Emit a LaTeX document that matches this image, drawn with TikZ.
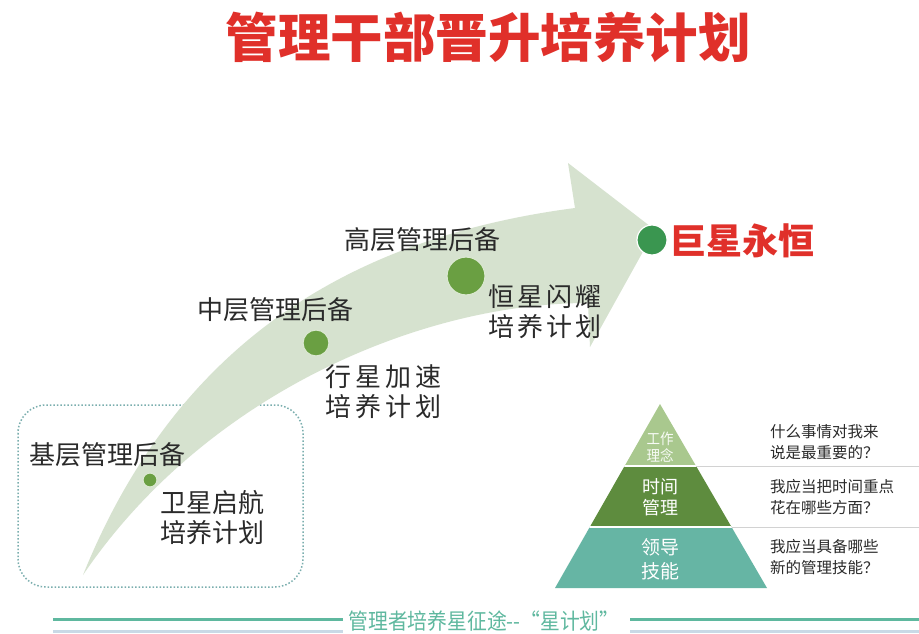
\documentclass[tikz,border=0pt]{standalone}
\usepackage{fontspec}
\usepackage{graphicx}
\newfontfamily\cjk{Noto Sans CJK SC}
\definecolor{band}{HTML}{D6E2CF}
\definecolor{dotg}{HTML}{6A9F42}
\definecolor{dotdark}{HTML}{3A9650}
\definecolor{titlered}{HTML}{E0302A}
\definecolor{pyrtop}{HTML}{A9C88E}
\definecolor{pyrmid}{HTML}{5E8C3E}
\definecolor{pyrbot}{HTML}{66B5A4}
\definecolor{boxline}{HTML}{7AAEAE}
\definecolor{foot}{HTML}{5FB89F}
\definecolor{footblue}{HTML}{C9D9E6}
\definecolor{txt}{HTML}{2A2A2A}
\tikzset{
  lbl/.style={inner sep=0pt, text=txt, font=\cjk\fontsize{26}{30}\selectfont},
  plan/.style={lbl, align=left, anchor=west},
  star/.style={circle, inner sep=0pt, fill=dotg, draw=dotg!25!white, line width=1.2pt},
  pyrlbl/.style={inner sep=0pt, text=white, align=center},
  qtxt/.style={inner sep=0pt, text=txt, align=left, anchor=west, font=\cjk\fontsize{15.5}{20.5}\selectfont},
}
\begin{document}
\begin{tikzpicture}[x=1pt,y=-1pt]
\useasboundingbox (0,0) rectangle (919,634);
\fill[white] (0,0) rectangle (919,634);
% title
\node[inner sep=0pt, text=titlered, font=\cjk\bfseries\fontsize{52.5}{52.5}\selectfont] (title) at (488,37) {管理干部晋升培养计划};
% dotted box
\draw[boxline, dotted, line width=1.5pt, rounded corners=28pt] (18,405) rectangle (303,587);
% curved arrow
\fill[band] (83,575) .. controls (170,360) and (330,240) .. (575,208)
  -- (568,163) -- (655,230) -- (590,347) -- (588,303)
  .. controls (420,303) and (205,395) .. (83,575) -- cycle;
% stars
\node[star, minimum size=14pt] (s1) at (150,480) {};
\node[star, minimum size=26pt] (s2) at (316,343) {};
\node[star, minimum size=38pt] (s3) at (466,276) {};
\node[star, minimum size=30pt, fill=dotdark, draw=white] (s4) at (652,240) {};
% labels
\node[lbl] (l1) at (108,455) {基层管理后备};
\node[plan] (p1) at (160,518) {卫星启航\\培养计划};
\node[lbl] (l2) at (275,310) {中层管理后备};
\node[plan] (p2) at (325,392) {行\kern4pt 星\kern4pt 加\kern4pt 速\\培\kern4pt 养\kern4pt 计\kern4pt 划};
\node[lbl] (l3) at (422,240) {高层管理后备};
\node[plan] (p3) at (488,312) {恒\kern3pt 星\kern3pt 闪\kern3pt 耀\\培\kern3pt 养\kern3pt 计\kern3pt 划};
\node[inner sep=0pt, anchor=west, text=titlered, font=\cjk\bfseries\fontsize{36}{36}\selectfont] (giant) at (670,241) {巨星永恒};
% pyramid
\coordinate (apex) at (660,404);
\coordinate (bl) at (555,588);
\coordinate (br) at (767,588);
\begin{scope}
\clip (apex) -- (br) -- (bl) -- cycle;
\fill[pyrtop] (540,400) rectangle (780,466);
\fill[pyrmid] (540,466) rectangle (780,527);
\fill[pyrbot] (540,527) rectangle (780,590);
\draw[white, line width=1.5pt] (540,466) -- (780,466);
\draw[white, line width=1.5pt] (540,527) -- (780,527);
\end{scope}
\draw[gray!35, line width=1pt] (696,466) -- (919,466);
\draw[gray!35, line width=1pt] (732,527) -- (919,527);
\node[pyrlbl, text=white!92!pyrtop, font=\cjk\fontsize{15}{17}\selectfont] (y1) at (660,447) {\scalebox{0.9}[1]{工作}\\\scalebox{0.9}[1]{理念}};
\node[pyrlbl, font=\cjk\fontsize{18}{21}\selectfont] (y2) at (660,497) {时间\\管理};
\node[pyrlbl, font=\cjk\fontsize{19}{24}\selectfont] (y3) at (660,559) {领导\\技能};
\node[qtxt] (q1) at (770,442) {什么事情对我来\\说是最重要的？};
\node[qtxt] (q2) at (770,497) {我应当把时间重点\\花在哪些方面？};
\node[qtxt] (q3) at (770,557) {我应当具备哪些\\新的管理技能？};
% footer
\node[inner sep=0pt, text=foot, font=\cjk\fontsize{22}{22}\selectfont] (foottext) at (484,621) {\scalebox{0.9}[1]{管理者培养星征途--“星计划”}};
\coordinate (fl1) at (53,619);
\coordinate (fl2) at (343,619);
\coordinate (fr1) at (630,619);
\coordinate (fr2) at (919,619);
\draw[foot, line width=3pt] (fl1) -- (fl2);
\draw[foot, line width=3pt] (fr1) -- (fr2);
\draw[footblue, line width=3pt] ([yshift=-12pt]fl1) -- ([yshift=-12pt]fl2);
\draw[footblue, line width=3pt] ([yshift=-12pt]fr1) -- ([yshift=-12pt]fr2);
\end{tikzpicture}
\end{document}
